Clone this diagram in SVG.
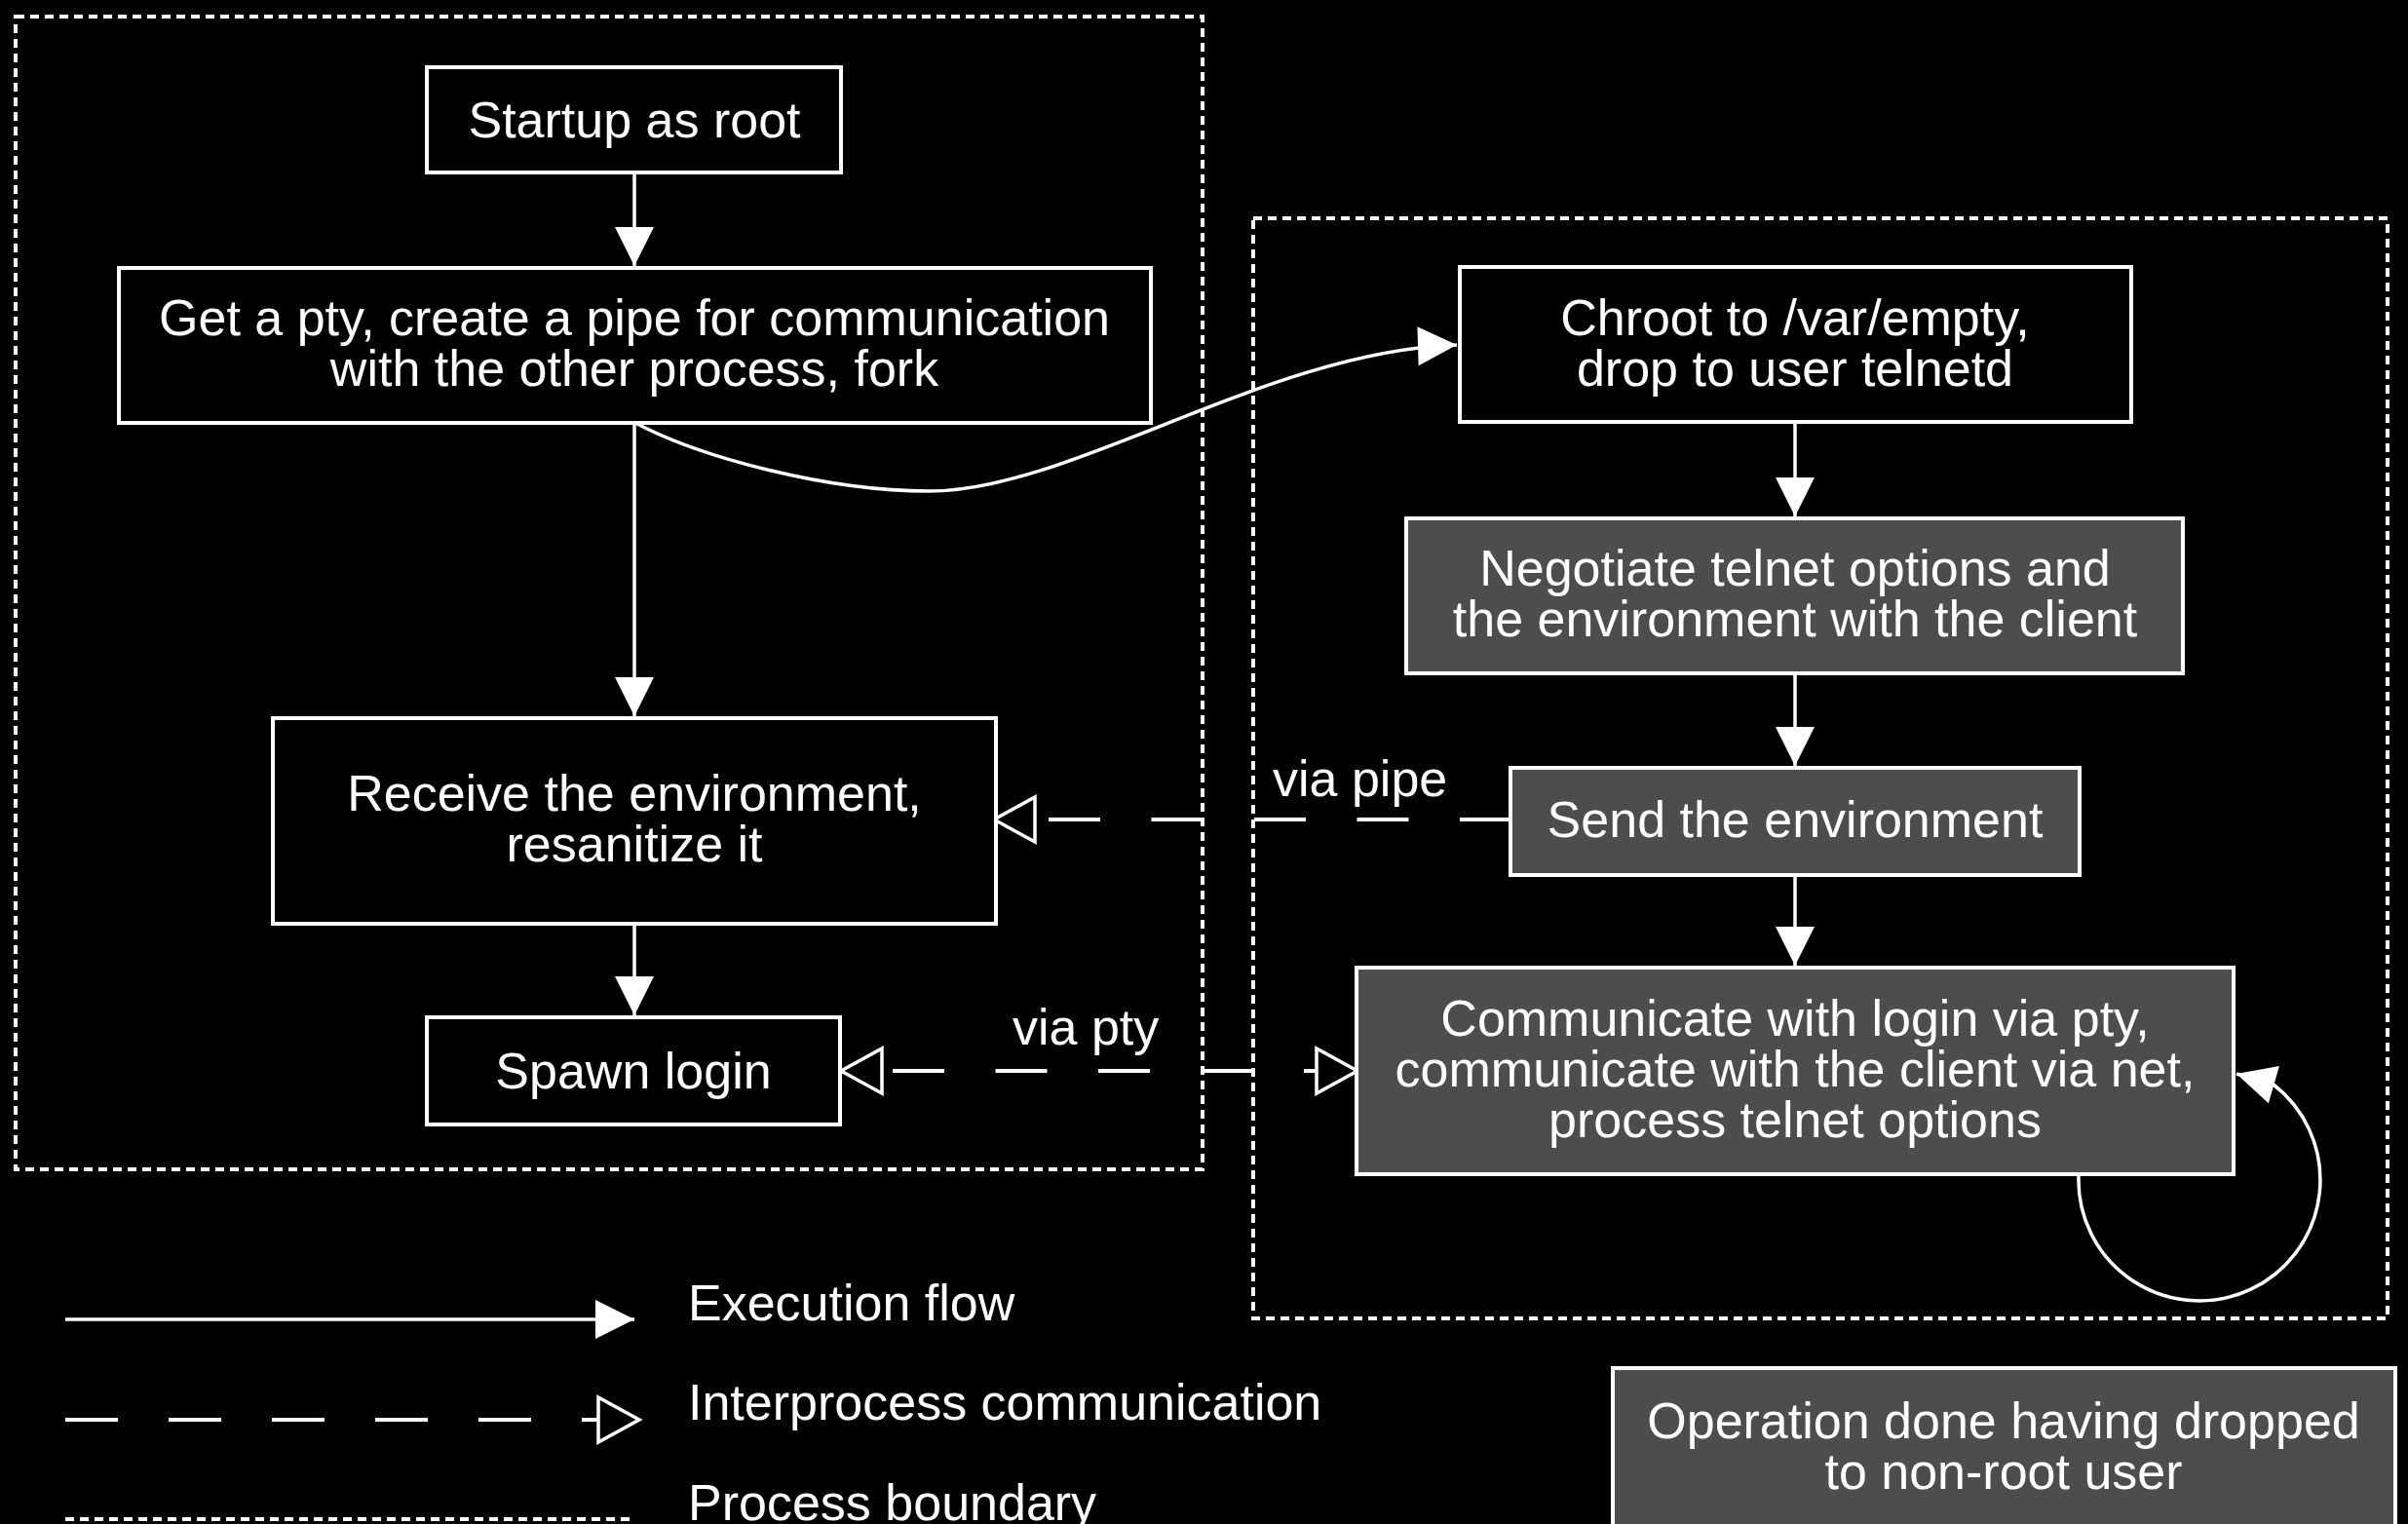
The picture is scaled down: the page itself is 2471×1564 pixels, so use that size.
<svg xmlns="http://www.w3.org/2000/svg" width="2471" height="1564" viewBox="0 0 2471 1564">
<style>
.box{fill:#000;stroke:#fff;stroke-width:4}
.gbox{fill:#4d4d4d;stroke:#fff;stroke-width:4}
.bound{fill:none;stroke:#fff;stroke-width:4;stroke-dasharray:9 6}
.flow{fill:none;stroke:#fff;stroke-width:3.5}
.ipc{fill:none;stroke:#fff;stroke-width:4;stroke-dasharray:53 52.5}
text{font-family:"Liberation Sans",Arial,Helvetica,sans-serif;font-size:52px;fill:#fff;text-anchor:middle}
text.lbl{text-anchor:start}
</style>
<defs>
<marker id="ah" markerUnits="userSpaceOnUse" markerWidth="42" markerHeight="42" refX="40" refY="20" orient="auto" overflow="visible"><path d="M0,0 L40,20 L0,40 z" fill="#fff"/></marker>
<marker id="oh" markerUnits="userSpaceOnUse" markerWidth="46" markerHeight="48" refX="42" refY="23" orient="auto-start-reverse" overflow="visible"><path d="M1,0 L43,23 L1,46 z" fill="#000" stroke="#fff" stroke-width="3.5"/></marker>
</defs>
<rect x="0" y="0" width="2471" height="1564" fill="#000"/>

<g id="boundaries">
<rect class="bound" x="16" y="17" width="1218" height="1183"/>
<rect class="bound" x="1286" y="224" width="1164" height="1129"/>
</g>

<g id="connectors">
<path class="flow" d="M651 179 V273" marker-end="url(#ah)"/>
<path class="flow" d="M651 436 V735" marker-end="url(#ah)"/>
<path class="flow" d="M651 950 V1042" marker-end="url(#ah)"/>
<path class="flow" d="M1842 435 V530" marker-end="url(#ah)"/>
<path class="flow" d="M1842 693 V786" marker-end="url(#ah)"/>
<path class="flow" d="M1842 900 V991" marker-end="url(#ah)"/>
<path class="flow" d="M652 434 C720 470 850 504 953 504 C1100 504 1300 360 1495 354" marker-end="url(#ah)"/>
<path class="flow" d="M2133 1207 A124 124 0 1 0 2333 1113 L2295 1102" marker-end="url(#ah)"/>
<path class="ipc" d="M1551 841 H1021" marker-end="url(#oh)"/>
<path class="ipc" style="stroke-dashoffset:53.5" d="M864 1099 H1392" marker-start="url(#oh)" marker-end="url(#oh)"/>
<text class="lbl" x="1306" y="817">via pipe</text>
<text class="lbl" x="1039" y="1072">via pty</text>
</g>

<g id="n-startup">
<rect class="box" x="438" y="69" width="425" height="108"/>
<text x="651" y="141">Startup as root</text>
</g>
<g id="n-getpty">
<rect class="box" x="122" y="275" width="1059" height="159"/>
<text x="651" y="344">Get a pty, create a pipe for communication</text>
<text x="651" y="396">with the other process, fork</text>
</g>
<g id="n-receive">
<rect class="box" x="280" y="737" width="742" height="211"/>
<text x="651" y="832">Receive the environment,</text>
<text x="651" y="884">resanitize it</text>
</g>
<g id="n-spawn">
<rect class="box" x="438" y="1044" width="424" height="110"/>
<text x="650" y="1117">Spawn login</text>
</g>
<g id="n-chroot">
<rect class="box" x="1498" y="274" width="689" height="159"/>
<text x="1842" y="344">Chroot to /var/empty,</text>
<text x="1842" y="396">drop to user telnetd</text>
</g>
<g id="n-negotiate">
<rect class="gbox" x="1443" y="532" width="797" height="159"/>
<text x="1842" y="601">Negotiate telnet options and</text>
<text x="1842" y="653">the environment with the client</text>
</g>
<g id="n-send">
<rect class="gbox" x="1550" y="788" width="584" height="110"/>
<text x="1842" y="859">Send the environment</text>
</g>
<g id="n-communicate">
<rect class="gbox" x="1392" y="993" width="900" height="212"/>
<text x="1842" y="1063">Communicate with login via pty,</text>
<text x="1842" y="1115">communicate with the client via net,</text>
<text x="1842" y="1167">process telnet options</text>
</g>

<g id="legend">
<path class="flow" d="M67 1354 H651" marker-end="url(#ah)"/>
<text class="lbl" x="706" y="1355">Execution flow</text>
<path class="ipc" style="stroke-dasharray:54 52" d="M67 1457 H655" marker-end="url(#oh)"/>
<text class="lbl" x="706" y="1457">Interprocess communication</text>
<path class="bound" d="M67 1559 H651"/>
<text class="lbl" x="706" y="1560">Process boundary</text>
<rect class="gbox" x="1655" y="1404" width="803" height="170"/>
<text x="2056" y="1476">Operation done having dropped</text>
<text x="2056" y="1528">to non-root user</text>
</g>
</svg>
